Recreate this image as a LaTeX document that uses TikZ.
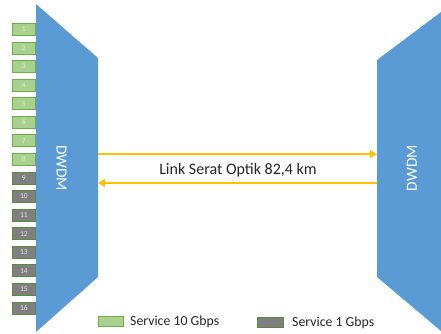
\documentclass[tikz,border=0pt]{standalone}
\usepackage{fontspec}
\setmainfont{Carlito}
\usetikzlibrary{arrows.meta}
\definecolor{dwdmblue}{HTML}{5B9BD5}
\definecolor{tengreen}{HTML}{A9D18E}
\definecolor{tenborder}{HTML}{70AD47}
\definecolor{onegray}{HTML}{7F7F7F}
\definecolor{oneborder}{HTML}{5A8A3C}
\definecolor{fiber}{HTML}{FFC000}
\definecolor{numtxt}{HTML}{E6E6E6}
\tikzset{
  dwdm/.style={fill=dwdmblue, draw=none},
  dwdmlabel/.style={text=white, font=\fontsize{15.5}{17}\selectfont, inner sep=0pt},
  tenbox/.style={fill=tengreen, draw=tenborder, line width=0.8pt, minimum width=23pt, minimum height=12pt, inner sep=0pt, anchor=north west, text=numtxt, font=\fontsize{7.5}{8}\selectfont},
  onebox/.style={fill=onegray, draw=oneborder, line width=0.8pt, minimum width=23pt, minimum height=12pt, inner sep=0pt, anchor=north west, text=numtxt, font=\fontsize{7.5}{8}\selectfont},
  fiberline/.style={draw=fiber, line width=2pt, -{Triangle[length=7pt,width=8pt]}},
  legtext/.style={font=\fontsize{13.8}{15}\selectfont, anchor=west, inner sep=0pt, text=black!85},
}
\begin{document}
\begin{tikzpicture}[x=1pt,y=-1pt]
\useasboundingbox (0,0) rectangle (441,333);
% left DWDM
\fill[dwdm] (36,4) -- (98,58) -- (98,277) -- (36,332) -- cycle;
\node[dwdmlabel, rotate=-90] (dwl) at (61.5,168) {DWDM};
% right DWDM
\fill[dwdm] (377,60) -- (441,12) -- (441,331) -- (377,277) -- cycle;
\node[dwdmlabel, rotate=90] (dwr) at (412,168) {DWDM};
% service boxes
\foreach \i in {1,...,8} {
  \node[tenbox] (s\i) at (12,{23+18.57*(\i-1)}) {\i};
}
\foreach \i in {9,...,16} {
  \node[onebox] (s\i) at (12,{23+18.57*(\i-1)}) {\i};
}
% fiber links
\coordinate (lt) at (98,154);
\coordinate (rt) at (377,154);
\coordinate (lb) at (98,183);
\coordinate (rb) at (377,183);
\draw[fiberline] (lt) -- (rt);
\draw[fiberline] (rb) -- (lb);
\node[font=\fontsize{16}{18}\selectfont, text=black!85] (link) at (238,170) {Link Serat Optik 82,4 km};
% legend
\node[fill=tengreen, draw=tenborder, line width=0.8pt, minimum width=25pt, minimum height=10pt, inner sep=0pt, anchor=north west] (leg10) at (98,316) {};
\node[legtext] (leg10t) at (130,321.5) {Service 10 Gbps};
\node[fill=onegray, draw=oneborder, line width=0.8pt, minimum width=26pt, minimum height=10pt, inner sep=0pt, anchor=north west] (leg1) at (257,317) {};
\node[legtext] (leg1t) at (292,322.5) {Service 1 Gbps};
\end{tikzpicture}
\end{document}
